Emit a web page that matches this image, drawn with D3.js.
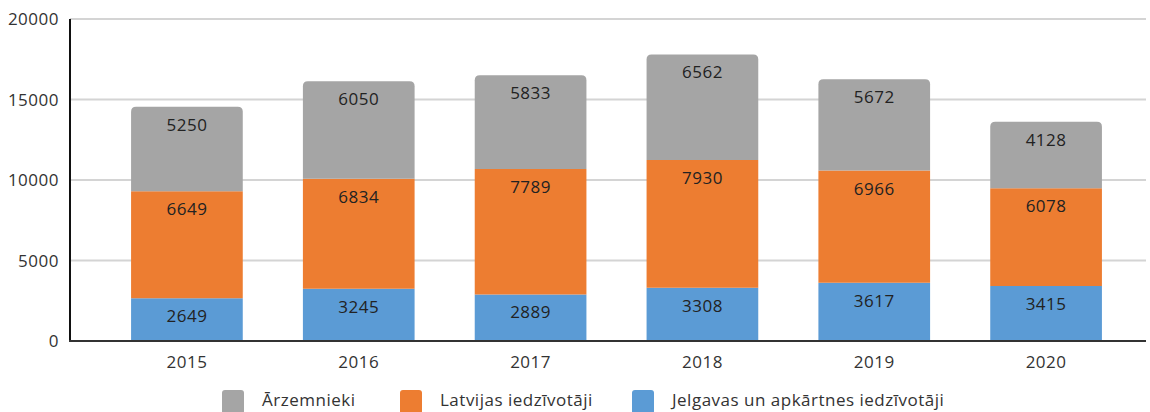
<!DOCTYPE html>
<meta charset="utf-8">
<script src="https://d3js.org/d3.v7.min.js"></script>
<style>
  body { margin: 0; background: #fff; }
  text { font-family: "Open Sans", "Noto Sans", sans-serif; fill: #333; letter-spacing: 0.5px; }
</style>
<div id="base"></div>
<script>
    // data
    var years = ["2015", "2016", "2017", "2018", "2019", "2020"];
    var jelgava = [2649, 3245, 2889, 3308, 3617, 3415];
    var latvija = [6649, 6834, 7789, 7930, 6966, 6078];
    var arzemnieki = [5250, 6050, 5833, 6562, 5672, 4128];
    var seriesNames = ["Ārzemnieki", "Latvijas iedzīvotāji", "Jelgavas un apkārtnes iedzīvotāji"];
    var colors = ["#a5a5a5", "#ed7d31", "#5b9bd5"];
    var yTicks = [0, 5000, 10000, 15000, 20000];

    var width = 1150, height = 412;

    var svg = d3.select("#base")
        .append("svg")
        .attr("width", width)
        .attr("height", height);

    var x = d3.scaleBand()
        .domain(years)
        .range([101, 1132])
        .paddingInner(0.35)
        .paddingOuter(0.175);

    var y = d3.scaleLinear()
        .domain([0, 20000])
        .range([341, 19]);

    // gridlines
    svg.append("g")
        .selectAll("line")
        .data(yTicks.filter(function (d) { return d > 0; }))
        .enter()
        .append("line")
        .attr("x1", 70)
        .attr("x2", 1146)
        .attr("y1", function (d) { return y(d); })
        .attr("y2", function (d) { return y(d); })
        .style("stroke", "#d4d4d4")
        .style("stroke-width", 2);

    // y-axis labels
    svg.append("g")
        .selectAll("text")
        .data(yTicks)
        .enter()
        .append("text")
        .attr("x", 59)
        .attr("y", function (d) { return y(d) + 6; })
        .attr("text-anchor", "end")
        .style("font-size", "17px")
        .text(function (d) { return d; });

    // stacked data
    var rows = years.map(function (yr, i) {
        return { year: yr, j: jelgava[i], l: latvija[i], a: arzemnieki[i] };
    });
    var stack = d3.stack().keys(["j", "l", "a"])(rows);
    var keyColor = { j: colors[2], l: colors[1], a: colors[0] };

    stack.forEach(function (layer) {
        var g = svg.append("g");
        var isTop = layer.key == "a";
        g.selectAll("path")
            .data(layer)
            .enter()
            .append("path")
            .attr("d", function (d) {
                var x0 = x(d.data.year), x1 = x0 + x.bandwidth();
                var yT = y(d[1]), yB = y(d[0]);
                var r = isTop ? 5 : 0;
                return "M" + x0 + "," + yB +
                    "L" + x0 + "," + (yT + r) +
                    "Q" + x0 + "," + yT + " " + (x0 + r) + "," + yT +
                    "L" + (x1 - r) + "," + yT +
                    "Q" + x1 + "," + yT + " " + x1 + "," + (yT + r) +
                    "L" + x1 + "," + yB + "Z";
            })
            .style("fill", keyColor[layer.key]);

        g.selectAll("text")
            .data(layer)
            .enter()
            .append("text")
            .attr("x", function (d) { return x(d.data.year) + x.bandwidth() / 2; })
            .attr("y", function (d) { return y(d[1]) + 24; })
            .attr("text-anchor", "middle")
            .style("font-size", "17px")
            .style("fill", "#222")
            .text(function (d) { return d[1] - d[0]; });
    });

    // axes lines
    svg.append("line")
        .attr("x1", 70).attr("x2", 70)
        .attr("y1", 19).attr("y2", 342)
        .style("stroke", "#111").style("stroke-width", 2);
    svg.append("line")
        .attr("x1", 69).attr("x2", 1146)
        .attr("y1", 341).attr("y2", 341)
        .style("stroke", "#333").style("stroke-width", 2);

    // x labels
    svg.append("g")
        .selectAll("text")
        .data(years)
        .enter()
        .append("text")
        .attr("x", function (d) { return x(d) + x.bandwidth() / 2; })
        .attr("y", 368)
        .attr("text-anchor", "middle")
        .style("font-size", "17px")
        .text(function (d) { return d; });

    // legend
    var legendX = [222, 400, 632];
    var legend = svg.append("g")
        .selectAll("g")
        .data(seriesNames)
        .enter()
        .append("g")
        .attr("transform", function (d, i) { return "translate(" + legendX[i] + ",390)"; });
    legend.append("rect")
        .attr("width", 22).attr("height", 24)
        .attr("rx", 3)
        .style("fill", function (d, i) { return colors[i]; });
    legend.append("text")
        .attr("x", 40)
        .attr("y", 16)
        .style("font-size", "17px")
        .text(function (d) { return d; });
</script>
